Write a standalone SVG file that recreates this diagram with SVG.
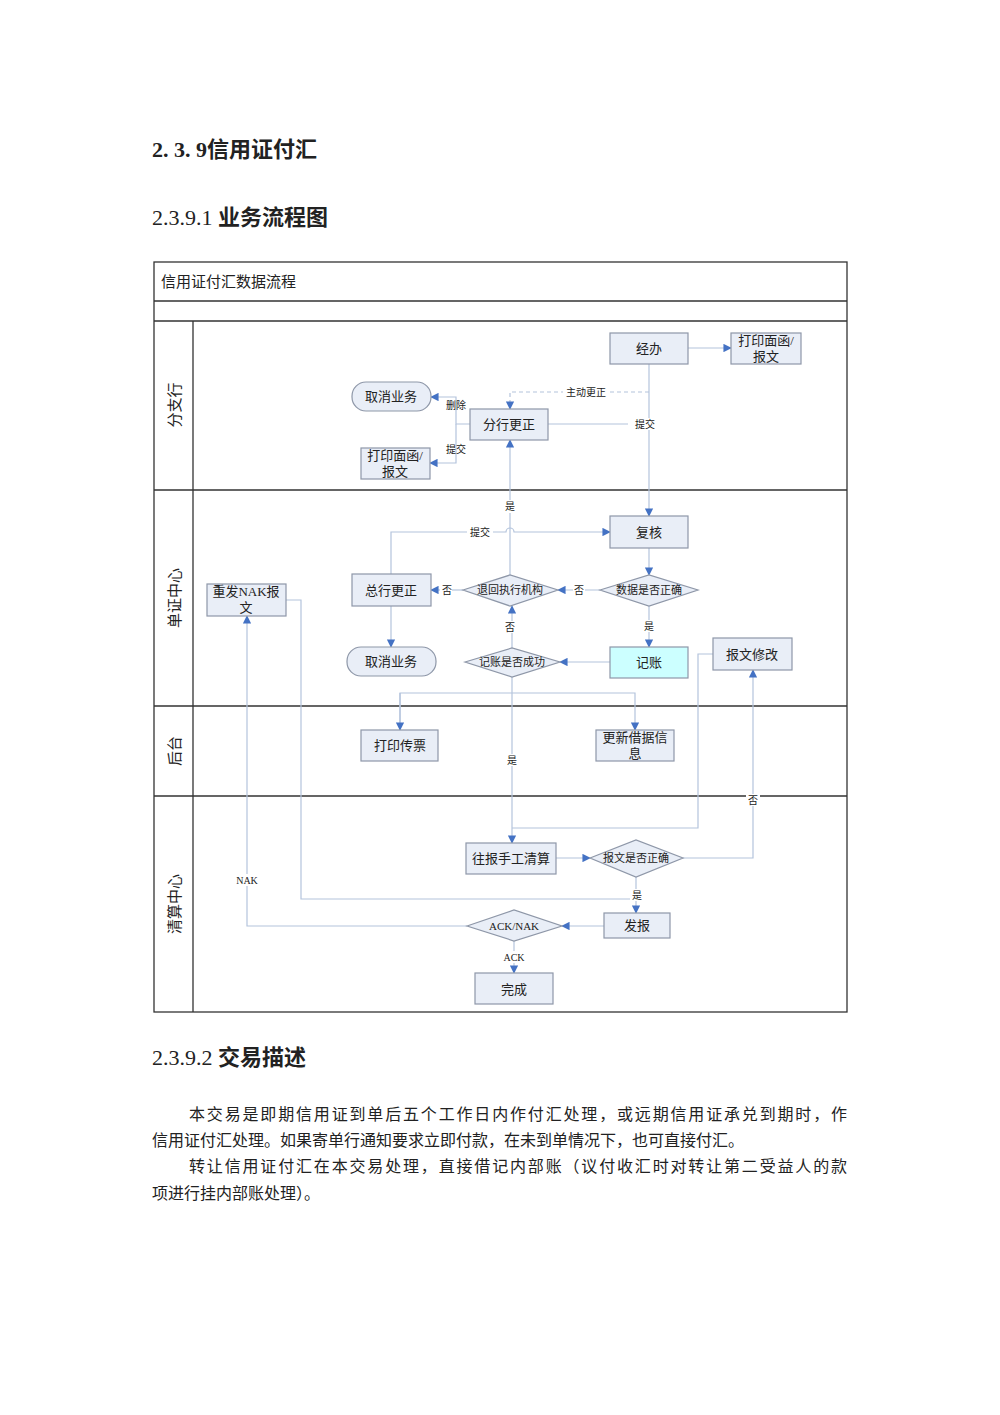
<svg xmlns="http://www.w3.org/2000/svg" width="1000" height="1415" viewBox="0 0 1000 1415">
<style>
text{font-family:"Liberation Serif","Noto Sans CJK SC",serif;fill:#222}
.h{font-weight:bold;font-size:22px}
.p{font-size:16px}
.n rect,.n path{fill:#e9eef7;stroke:#8e97a8;stroke-width:1.2}
.n text{font-size:13px;text-anchor:middle}
.d text{font-size:11px}
.c path{fill:none;stroke:#b4c4dc;stroke-width:1.2}
.c .dash{stroke-dasharray:4 3}
.l{font-size:10px;text-anchor:middle}
.lane{font-size:15px;text-anchor:middle}
</style>
<defs><marker id="a" viewBox="0 0 10 10" refX="9" refY="5" markerWidth="7" markerHeight="7" orient="auto"><path d="M0,0L10,5L0,10z" fill="#4472c4"/></marker></defs>
<rect width="1000" height="1415" fill="#fff"/>
<text class="h" x="152" y="157">2. 3. 9信用证付汇</text>
<text class="h" x="152" y="225"><tspan font-weight="normal">2.3.9.1 </tspan>业务流程图</text>
<g id="frame" fill="none" stroke="#333" stroke-width="1.3">
<rect x="154" y="262" width="693" height="750"/>
<path d="M154,301H847M154,321H847M193,321V1012M154,490H847M154,706H847M154,796H847"/>
</g>
<text x="161" y="287" font-size="15">信用证付汇数据流程</text>
<text class="lane" transform="translate(180,405) rotate(-90)">分支行</text>
<text class="lane" transform="translate(180,598) rotate(-90)">单证中心</text>
<text class="lane" transform="translate(180,751) rotate(-90)">后台</text>
<text class="lane" transform="translate(180,904) rotate(-90)">清算中心</text>
<g id="connectors" class="c">
<path d="M688,348H731" marker-end="url(#a)"/>
<path d="M649,364V516" marker-end="url(#a)"/>
<path d="M548,424H649"/>
<path class="dash" d="M649,392H510V409" marker-end="url(#a)"/>
<path d="M470,424H456V397H431" marker-end="url(#a)"/>
<path d="M456,424V463H430" marker-end="url(#a)"/>
<path d="M510,575V440" marker-end="url(#a)"/>
<path d="M391,574V532H506A4,4 0 0 1 514,532H610" marker-end="url(#a)"/>
<path d="M649,548V575" marker-end="url(#a)"/>
<path d="M600,590H558" marker-end="url(#a)"/>
<path d="M463,590H431" marker-end="url(#a)"/>
<path d="M649,606V647" marker-end="url(#a)"/>
<path d="M610,662H560" marker-end="url(#a)"/>
<path d="M512,648V606" marker-end="url(#a)"/>
<path d="M391,606V647" marker-end="url(#a)"/>
<path d="M512,677V843" marker-end="url(#a)"/>
<path d="M400,730V693H635V730" marker-end="url(#a)"/>
<path d="M400,693V730" marker-end="url(#a)"/>
<path d="M713,654H698V828H512"/>
<path d="M556,858H590" marker-end="url(#a)"/>
<path d="M683,858H753V670" marker-end="url(#a)"/>
<path d="M636,877V913" marker-end="url(#a)"/>
<path d="M286,600H301V899H636"/>
<path d="M604,926H562" marker-end="url(#a)"/>
<path d="M467,926H247V616" marker-end="url(#a)"/>
<path d="M514,941V973" marker-end="url(#a)"/>
</g>
<g id="labels">
<rect x="628" y="418" width="30" height="12" fill="#fff"/><text class="l" x="645" y="428">提交</text>
<rect x="563" y="386" width="46" height="12" fill="#fff"/><text class="l" x="586" y="396">主动更正</text>
<text class="l" x="456" y="409">删除</text>
<text class="l" x="456" y="453">提交</text>
<rect x="503" y="500" width="14" height="13" fill="#fff"/><text class="l" x="510" y="510">是</text>
<rect x="467" y="526" width="26" height="12" fill="#fff"/><text class="l" x="480" y="536">提交</text>
<rect x="573" y="584" width="12" height="12" fill="#fff"/><text class="l" x="579" y="594">否</text>
<rect x="440" y="584" width="12" height="12" fill="#fff"/><text class="l" x="447" y="594">否</text>
<rect x="643" y="620" width="12" height="12" fill="#fff"/><text class="l" x="649" y="630">是</text>
<rect x="504" y="621" width="12" height="12" fill="#fff"/><text class="l" x="510" y="631">否</text>
<rect x="505" y="754" width="14" height="12" fill="#fff"/><text class="l" x="512" y="764">是</text>
<rect x="746" y="794" width="14" height="12" fill="#fff"/><text class="l" x="753" y="804">否</text>
<rect x="630" y="889" width="12" height="12" fill="#fff"/><text class="l" x="637" y="899">是</text>
<rect x="234" y="874" width="26" height="12" fill="#fff"/><text class="l" x="247" y="884">NAK</text>
<rect x="501" y="951" width="26" height="12" fill="#fff"/><text class="l" x="514" y="961">ACK</text>
</g>
<g id="n1" class="n"><rect x="610" y="333" width="78" height="31"/><text x="649" y="353">经办</text></g>
<g id="n2" class="n"><rect x="731" y="333" width="70" height="31"/><text x="766" y="345">打印面函/</text><text x="766" y="361">报文</text></g>
<g id="n3" class="n"><rect x="352" y="382" width="79" height="29" rx="14"/><text x="391" y="401">取消业务</text></g>
<g id="n4" class="n"><rect x="470" y="409" width="78" height="31"/><text x="509" y="429">分行更正</text></g>
<g id="n5" class="n"><rect x="361" y="448" width="69" height="31"/><text x="395" y="460">打印面函/</text><text x="395" y="476">报文</text></g>
<g id="n6" class="n"><rect x="610" y="516" width="78" height="32"/><text x="649" y="537">复核</text></g>
<g id="n7" class="n d"><path d="M600,590L649,575L698,590L649,606Z"/><text x="649" y="594">数据是否正确</text></g>
<g id="n8" class="n d"><path d="M463,590L510,575L558,590L510,606Z"/><text x="510" y="594">退回执行机构</text></g>
<g id="n9" class="n"><rect x="352" y="574" width="79" height="32"/><text x="391" y="595">总行更正</text></g>
<g id="n10" class="n"><rect x="207" y="584" width="79" height="32"/><text x="246" y="596">重发NAK报</text><text x="246" y="612">文</text></g>
<g id="n11" class="n"><rect x="347" y="647" width="89" height="29" rx="14"/><text x="391" y="666">取消业务</text></g>
<g id="n12" class="n d"><path d="M465,662L512,648L560,662L512,677Z"/><text x="512" y="666">记账是否成功</text></g>
<g id="n13" class="n"><rect x="610" y="647" width="78" height="31" style="fill:#ccffff"/><text x="649" y="667">记账</text></g>
<g id="n14" class="n"><rect x="713" y="638" width="79" height="32"/><text x="752" y="659">报文修改</text></g>
<g id="n15" class="n"><rect x="361" y="730" width="77" height="31"/><text x="400" y="750">打印传票</text></g>
<g id="n16" class="n"><rect x="596" y="730" width="78" height="31"/><text x="635" y="742">更新借据信</text><text x="635" y="758">息</text></g>
<g id="n17" class="n"><rect x="466" y="843" width="90" height="31"/><text x="511" y="863">往报手工清算</text></g>
<g id="n18" class="n d"><path d="M590,858L636,840L683,858L636,877Z"/><text x="636" y="862">报文是否正确</text></g>
<g id="n19" class="n"><rect x="604" y="913" width="66" height="25"/><text x="637" y="930">发报</text></g>
<g id="n20" class="n d"><path d="M467,926L514,910L562,926L514,941Z"/><text x="514" y="930">ACK/NAK</text></g>
<g id="n21" class="n"><rect x="475" y="973" width="78" height="31"/><text x="514" y="994">完成</text></g>
<text class="h" x="152" y="1065"><tspan font-weight="normal">2.3.9.2 </tspan>交易描述</text>
<text class="p" x="189" y="1120" textLength="658" lengthAdjust="spacing">本交易是即期信用证到单后五个工作日内作付汇处理，或远期信用证承兑到期时，作</text>
<text class="p" x="152" y="1146">信用证付汇处理。如果寄单行通知要求立即付款，在未到单情况下，也可直接付汇。</text>
<text class="p" x="189" y="1172" textLength="658" lengthAdjust="spacing">转让信用证付汇在本交易处理，直接借记内部账（议付收汇时对转让第二受益人的款</text>
<text class="p" x="152" y="1199">项进行挂内部账处理）。</text>
</svg>
